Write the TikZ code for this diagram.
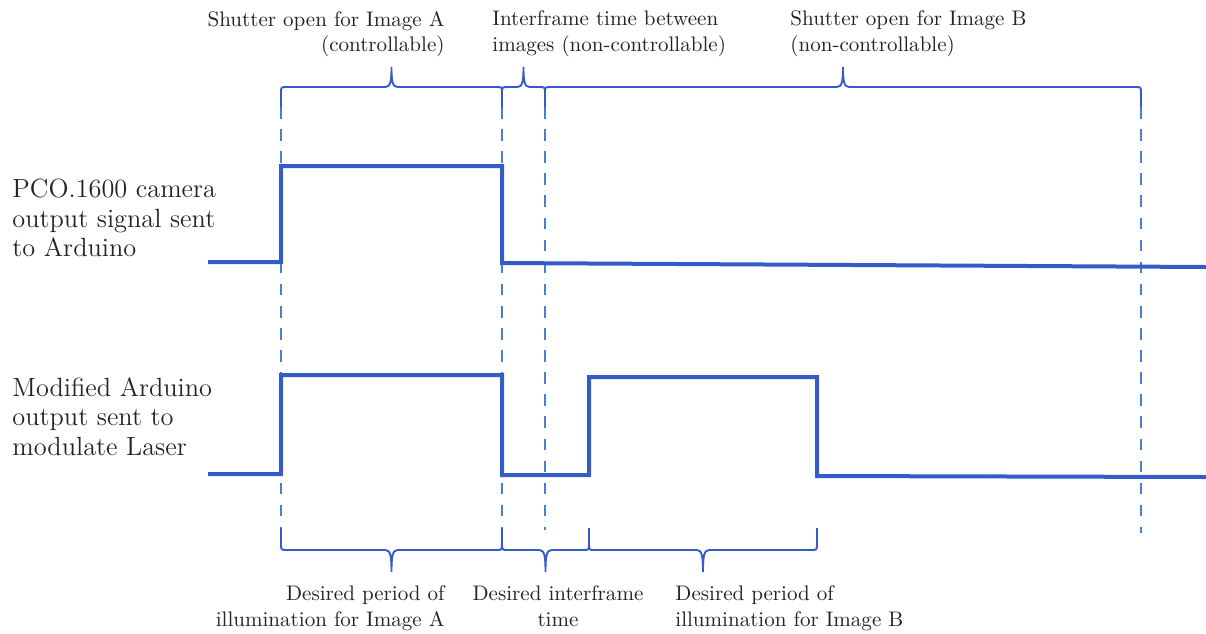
\documentclass[tikz,border=0pt]{standalone}
\usepackage{tikz}
\definecolor{sigblue}{RGB}{52,92,200}
\definecolor{dashblue}{RGB}{72,128,205}
\definecolor{txtgray}{RGB}{35,35,35}
\tikzset{
  signal/.style={sigblue,line width=1.9pt,line join=miter},
  brace/.style={sigblue,line width=0.9pt},
  timeline/.style={dashblue,line width=1.15pt,dash pattern=on 5.5pt off 5pt},
  sidelabel/.style={txtgray,inner sep=0pt,align=left,font=\fontsize{12.5}{14}\selectfont},
  notelabel/.style={txtgray,inner sep=0pt,font=\normalsize}
}
% brace: x1, x2, baseline y, tail length (+ : ends down, tip up)
\newcommand{\timebrace}[4]{%
  \pgfmathsetmacro{\bxm}{(#1+#2)/2}
  \pgfmathsetmacro{\byend}{#3+(#4)}
  \pgfmathsetmacro{\bytip}{#3-(#4)}
  \pgfmathsetmacro{\bya}{#3+0.3*(#4)}
  \pgfmathsetmacro{\byb}{#3-0.3*(#4)}
  \draw[brace] (#1,\byend) -- (#1,\bya) .. controls (#1,#3) .. (#1+6,#3)
    -- (\bxm-6,#3) .. controls (\bxm-1,#3) and (\bxm,\byb) .. (\bxm,\bytip)
    .. controls (\bxm,\byb) and (\bxm+1,#3) .. (\bxm+6,#3)
    -- (#2-6,#3) .. controls (#2,#3) .. (#2,\bya) -- (#2,\byend);
}
\begin{document}
\begin{tikzpicture}[x=0.475pt,y=-0.475pt]
\useasboundingbox (0,0) rectangle (1206,633);

% dashed time marks
\foreach \x/\ye in {281/528, 502/528, 545/530, 1141/533} {
  \draw[timeline] (\x,107) -- (\x,\ye);
}

% camera signal
\draw[signal] (208,262) -- (281,262) -- (281,166) -- (502,166) -- (502,263) -- (1206,267);
% laser signal
\draw[signal] (208,474) -- (281,474) -- (281,375) -- (502,375) -- (502,475)
  -- (589,475) -- (589,377) -- (817,377) -- (817,476) -- (1206,477);

% top braces
\timebrace{281}{502}{87}{20}
\timebrace{502}{545}{87}{20}
\timebrace{545}{1141}{87}{20}
% bottom braces
\timebrace{281}{502}{550}{-22}
\timebrace{502}{589}{550}{-22}
\timebrace{589}{817}{550}{-22}

% labels
\node[sidelabel,anchor=north west] (camlabel) at (12,179) {PCO.1600 camera\\output signal sent\\to Arduino};
\node[sidelabel,anchor=north west] (laserlabel) at (12,377) {Modified Arduino\\output sent to\\modulate Laser};

\node[notelabel,anchor=north east,align=right] (shutA) at (445,10.5) {Shutter open for Image A\\(controllable)};
\node[notelabel,anchor=north west,align=left] (interA) at (492,10.5) {Interframe time between\\images (non-controllable)};
\node[notelabel,anchor=north west,align=left] (shutB) at (790,10.5) {Shutter open for Image B\\(non-controllable)};

\node[notelabel,anchor=north east,align=right] (illumA) at (445,585.5) {Desired period of\\illumination for Image A};
\node[notelabel,anchor=north,align=center] (interB) at (558,585.5) {Desired interframe\\time};
\node[notelabel,anchor=north west,align=left] (illumB) at (675,585.5) {Desired period of\\illumination for Image B};
\end{tikzpicture}
\end{document}
